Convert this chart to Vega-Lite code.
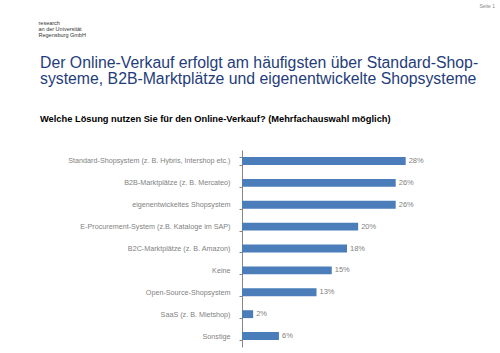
{
  "$schema": "https://vega.github.io/schema/vega-lite/v6.json",
  "width": 176,
  "height": 197,
  "autosize": {"type": "none"},
  "padding": {"left": 242, "top": 150, "right": 82, "bottom": 6},
  "background": "white",
  "config": {"view": {"stroke": null}, "font": "Liberation Sans, Arial"},
  "title": {
    "text": ["Der Online-Verkauf erfolgt am häufigsten über Standard-Shop-", "systeme, B2B-Marktplätze und eigenentwickelte Shopsysteme"],
    "subtitle": "Welche Lösung nutzen Sie für den Online-Verkauf? (Mehrfachauswahl möglich)",
    "anchor": "start",
    "frame": "group",
    "dx": -202,
    "dy": 126,
    "font": "Liberation Sans, Arial",
    "fontSize": 15.8,
    "fontWeight": "normal",
    "color": "#1F3D7A",
    "lineHeight": 16,
    "subtitleFont": "Liberation Sans, Arial",
    "subtitleFontSize": 9.3,
    "subtitleFontWeight": "bold",
    "subtitleColor": "#000000",
    "subtitlePadding": 27
  },
  "data": {
    "values": [
      {"loesung": "Standard-Shopsystem (z. B. Hybris, Intershop etc.)", "anteil": 27.9, "label": "28%"},
      {"loesung": "B2B-Marktplätze (z. B. Mercateo)", "anteil": 26.2, "label": "26%"},
      {"loesung": "eigenentwickeltes Shopsystem", "anteil": 26.2, "label": "26%"},
      {"loesung": "E-Procurement-System (z.B. Kataloge im SAP)", "anteil": 19.8, "label": "20%"},
      {"loesung": "B2C-Marktplätze (z. B. Amazon)", "anteil": 17.9, "label": "18%"},
      {"loesung": "Keine", "anteil": 15.3, "label": "15%"},
      {"loesung": "Open-Source-Shopsystem", "anteil": 12.7, "label": "13%"},
      {"loesung": "SaaS (z. B. Mietshop)", "anteil": 1.9, "label": "2%"},
      {"loesung": "Sonstige", "anteil": 6.3, "label": "6%"}
    ]
  },
  "encoding": {
    "y": {
      "field": "loesung",
      "type": "nominal",
      "sort": null,
      "scale": {"paddingInner": 0.64, "paddingOuter": 0.32},
      "axis": {
        "title": ["research", "an der Universität", "Regensburg GmbH"],
        "titleAngle": 0,
        "titleAlign": "left",
        "titleBaseline": "top",
        "titleX": -204,
        "titleY": -130,
        "titleFontSize": 5.5,
        "titleFontWeight": "normal",
        "titleColor": "#333333",
        "titleLineHeight": 6,
        "domainColor": "#868686",
        "tickColor": "#868686",
        "tickSize": 3,
        "tickBand": "extent",
        "labelFontSize": 7.2,
        "labelColor": "#7F7F7F",
        "labelPadding": 9,
        "labelLimit": 300
      }
    }
  },
  "layer": [
    {
      "mark": {"type": "bar", "color": "#4A7DBA"},
      "encoding": {
        "x": {
          "field": "anteil",
          "type": "quantitative",
          "scale": {"domain": [0, 30], "nice": false},
          "axis": {
            "orient": "top",
            "domain": false,
            "ticks": false,
            "labels": false,
            "grid": false,
            "title": "Seite 1",
            "titleX": 237,
            "titleY": -147,
            "titleAlign": "left",
            "titleBaseline": "top",
            "titleFontSize": 5,
            "titleFontWeight": "normal",
            "titleColor": "#888888"
          }
        }
      }
    },
    {
      "mark": {"type": "text", "align": "left", "baseline": "middle", "dx": 3, "fontSize": 7.5, "color": "#7F7F7F"},
      "encoding": {
        "x": {"field": "anteil", "type": "quantitative"},
        "text": {"field": "label"}
      }
    }
  ]
}
